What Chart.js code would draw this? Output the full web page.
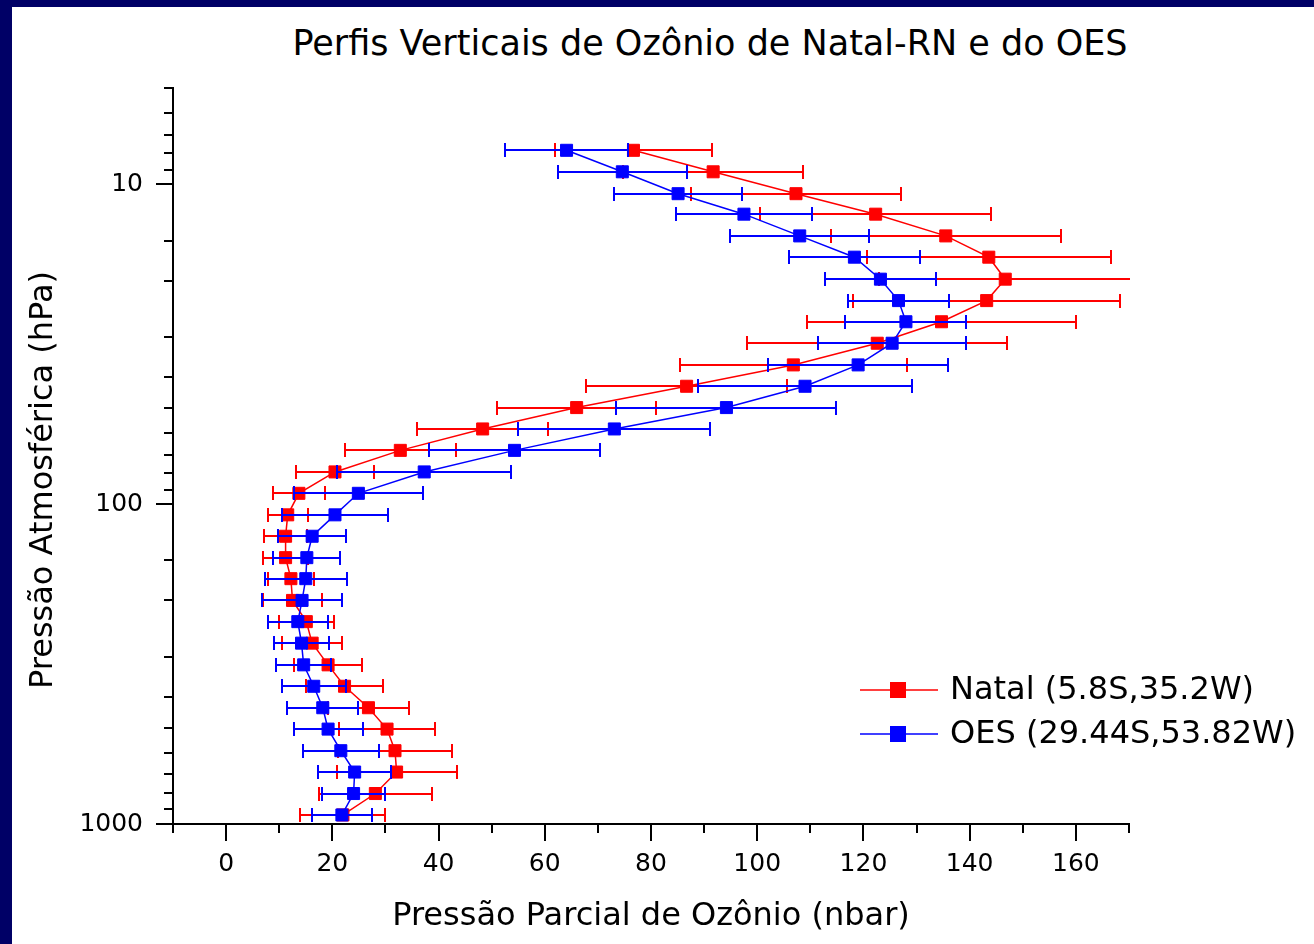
<!DOCTYPE html>
<html lang="pt-BR">
<head>
<meta charset="utf-8">
<title>Perfis Verticais de Ozônio</title>
<script src="https://cdn.jsdelivr.net/npm/chart.js@4.4.1/dist/chart.umd.min.js"></script>
<style>
    html, body { margin: 0; padding: 0; overflow: hidden; }
    body { width: 1314px; height: 944px; background: #000066; position: relative; font-family: 'DejaVu Sans', sans-serif; }
    #panel { position: absolute; left: 12px; top: 7px; right: 0; bottom: 0; background: #fff; }
    #chart-title { position: absolute; left: 710px; top: 23px; transform: translateX(-50%); white-space: nowrap; font-size: 35px; color: #000; }
    #chart-wrap { position: absolute; left: 0; top: 0; width: 1314px; height: 944px; }
</style>
</head>
<body>
<div id="panel"></div>
<div id="chart-title">Perfis Verticais de Ozônio de Natal-RN e do OES</div>
<div id="chart-wrap"><canvas id="ozone-chart" width="1314" height="944"></canvas></div>
<script>
'use strict';

// Pressure levels (hPa), top of the profile first
const pressureLevels = [7.83, 9.14, 10.7, 12.4, 14.5, 16.9, 19.8, 23.1, 26.9, 31.4, 36.7, 42.8, 49.9, 58.2, 67.9, 79.3,
    92.5, 108, 126, 147, 171, 200, 233, 272, 318, 371, 433, 505, 590, 688, 803, 937];

// Ozone partial pressure (nbar) and its spread
const natalOzone = [76.7, 91.7, 107.3, 122.3, 135.5, 143.6, 146.7, 143.2, 134.7, 122.6, 106.8, 86.7, 66.0, 48.3, 32.8, 20.5,
    13.7, 11.6, 11.2, 11.2, 12.2, 12.5, 15.1, 16.2, 19.2, 22.3, 26.8, 30.3, 31.8, 32.1, 28.1, 22.0];
const natalError = [14.8, 16.9, 19.8, 21.7, 21.7, 23.0, 23.8, 25.1, 25.3, 24.5, 21.4, 18.9, 15.0, 12.3, 10.4, 7.4,
    4.9, 3.8, 4.0, 4.2, 4.4, 5.5, 5.2, 5.7, 6.4, 7.2, 7.6, 9.1, 10.7, 11.3, 10.6, 8.0];

const oesOzone = [64.1, 74.6, 85.1, 97.5, 108.0, 118.3, 123.2, 126.6, 128.0, 125.4, 119.0, 109.0, 94.2, 73.1, 54.3, 37.3,
    24.9, 20.5, 16.2, 15.2, 15.0, 14.3, 13.5, 14.2, 14.6, 16.5, 18.2, 19.2, 21.6, 24.2, 24.0, 21.8];
const oesError = [11.5, 12.1, 12.1, 12.8, 13.1, 12.4, 10.4, 9.5, 11.4, 13.9, 17.0, 20.1, 20.7, 18.1, 16.1, 16.4,
    12.1, 9.9, 6.4, 6.3, 7.7, 7.5, 5.7, 5.1, 5.2, 6.0, 6.7, 6.5, 7.1, 6.9, 6.0, 5.6];

const xTickLabels = [0, 20, 40, 60, 80, 100, 120, 140, 160];
const yTickLabels = [10, 100, 1000];

const Y_TITLE = 'Pressão Atmosférica (hPa)';
const FONT = 'DejaVu Sans';
const MAJOR_TICK = 17;
const MINOR_TICK = 9;
const CAP = 7;

Chart.defaults.color = '#000';
Chart.defaults.font.family = FONT;

function toPoints(values, errors) {
    return values.map((v, i) => ({ x: v, y: pressureLevels[i], err: errors[i] }));
}

// Horizontal error bars, drawn just before each dataset's line and squares
const errorBars = {
    id: 'errorBars',
    beforeDatasetDraw(chart, args) {
        const { ctx, chartArea, scales: { x, y } } = chart;
        const ds = chart.data.datasets[args.index];
        ctx.save();
        ctx.beginPath();
        ctx.rect(chartArea.left, chartArea.top - CAP, chartArea.right - chartArea.left + 1, chartArea.bottom - chartArea.top + 2 * CAP);
        ctx.clip();
        ctx.strokeStyle = ds.borderColor;
        ctx.lineWidth = 2;
        ctx.beginPath();
        ds.data.forEach(p => {
            const py = Math.round(y.getPixelForValue(p.y));
            const lo = Math.round(x.getPixelForValue(p.x - p.err));
            const hi = Math.round(x.getPixelForValue(p.x + p.err));
            ctx.moveTo(lo, py);
            ctx.lineTo(hi, py);
            ctx.moveTo(lo, py - CAP);
            ctx.lineTo(lo, py + CAP);
            ctx.moveTo(hi, py - CAP);
            ctx.lineTo(hi, py + CAP);
        });
        ctx.stroke();
        ctx.restore();
    }
};

// Outward tick marks, long on labelled values and short elsewhere
const axisTicks = {
    id: 'axisTicks',
    afterDraw(chart) {
        const { ctx, chartArea, scales: { x, y } } = chart;
        ctx.save();
        ctx.strokeStyle = '#000';
        ctx.lineWidth = 2;
        ctx.beginPath();
        x.ticks.forEach(t => {
            const px = Math.round(x.getPixelForValue(t.value));
            const len = xTickLabels.includes(t.value) ? MAJOR_TICK : MINOR_TICK;
            ctx.moveTo(px, chartArea.bottom);
            ctx.lineTo(px, chartArea.bottom + len);
        });
        y.ticks.forEach(t => {
            const py = Math.round(y.getPixelForValue(t.value));
            const len = yTickLabels.includes(t.value) ? MAJOR_TICK : MINOR_TICK;
            ctx.moveTo(chartArea.left, py);
            ctx.lineTo(chartArea.left - len, py);
        });
        ctx.stroke();
        ctx.restore();
    }
};

// Y axis title sits a bit below the middle of the axis in the original
const yAxisTitle = {
    id: 'yAxisTitle',
    afterDraw(chart) {
        const { ctx, chartArea } = chart;
        ctx.save();
        ctx.translate(44, (chartArea.top + chartArea.bottom) / 2 + 24);
        ctx.rotate(-Math.PI / 2);
        ctx.font = '32px "' + FONT + '"';
        ctx.textAlign = 'center';
        ctx.textBaseline = 'middle';
        ctx.fillStyle = '#000';
        ctx.fillText(Y_TITLE, 0, 0);
        ctx.restore();
    }
};

// Legend box sitting inside the lower right of the plot
const sideLegend = {
    id: 'sideLegend',
    afterDraw(chart) {
        const { ctx } = chart;
        ctx.save();
        ctx.font = '32px "' + FONT + '"';
        ctx.textBaseline = 'middle';
        chart.data.datasets.forEach((ds, i) => {
            const ly = 690 + i * 44;
            ctx.strokeStyle = ds.borderColor;
            ctx.lineWidth = 1.5;
            ctx.beginPath();
            ctx.moveTo(860, ly);
            ctx.lineTo(938, ly);
            ctx.stroke();
            ctx.fillStyle = ds.backgroundColor;
            ctx.fillRect(890, ly - 8, 16, 16);
            ctx.fillStyle = '#000';
            ctx.fillText(ds.label, 950, ly + 1);
        });
        ctx.restore();
    }
};

const ctx = document.getElementById('ozone-chart');

new Chart(ctx, {
    type: 'scatter',
    data: {
        datasets: [
            {
                label: 'Natal (5.8S,35.2W)',
                data: toPoints(natalOzone, natalError),
                borderColor: '#ff0000',
                backgroundColor: '#ff0000',
                order: 1
            },
            {
                label: 'OES (29.44S,53.82W)',
                data: toPoints(oesOzone, oesError),
                borderColor: '#0000ff',
                backgroundColor: '#0000ff',
                order: 0
            }
        ]
    },
    options: {
        responsive: false,
        animation: false,
        showLine: true,
        elements: {
            line: { borderWidth: 1.5, tension: 0 },
            point: { pointStyle: 'rect', radius: 8.5, borderWidth: 1, hoverRadius: 8.5 }
        },
        layout: { padding: { left: 12, top: 88, right: 185, bottom: 0 } },
        plugins: {
            legend: { display: false },
            tooltip: { enabled: false }
        },
        scales: {
            x: {
                type: 'linear',
                min: -10,
                max: 170,
                afterFit: s => { s.height = 120; },
                grid: { display: false, drawTicks: false, tickLength: 0 },
                border: { display: true, color: '#000', width: 2 },
                ticks: {
                    stepSize: 10,
                    autoSkip: false,
                    maxRotation: 0,
                    padding: 25,
                    font: { size: 25 },
                    callback: v => xTickLabels.includes(v) ? String(v) : ''
                },
                title: {
                    display: true,
                    text: 'Pressão Parcial de Ozônio (nbar)',
                    font: { size: 32 },
                    padding: { top: 0, bottom: 8 }
                }
            },
            y: {
                type: 'logarithmic',
                reverse: true,
                min: 5,
                max: 1000,
                afterFit: s => { s.width = 161; },
                grid: { display: false, drawTicks: false, tickLength: 0 },
                border: { display: true, color: '#000', width: 2 },
                ticks: {
                    autoSkip: false,
                    padding: 30,
                    font: { size: 25 },
                    callback: v => yTickLabels.includes(v) ? String(v) : ''
                },
                title: { display: false, text: Y_TITLE }
            }
        }
    },
    plugins: [errorBars, axisTicks, yAxisTitle, sideLegend]
});
</script>
</body>
</html>
